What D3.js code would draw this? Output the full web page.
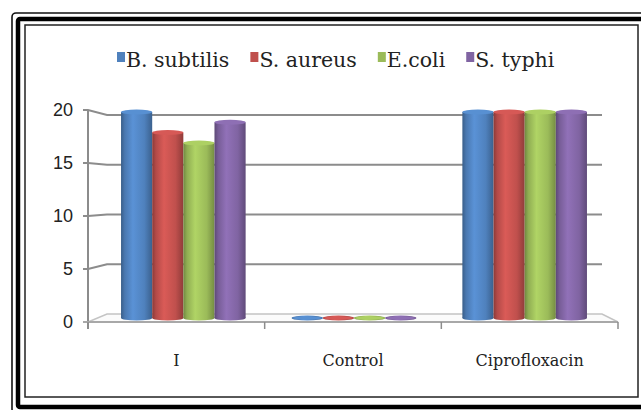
<!DOCTYPE html>
<html>
<head>
<meta charset="utf-8">
<script src="https://cdn.jsdelivr.net/npm/d3@7"></script>
<style>
  body { margin: 0; background: white; }
  svg { display: block; }
</style>
</head>
<body>
<div class="canvas"></div>
<script>
// data
const categories = ["I", "Control", "Ciprofloxacin"];
const seriesNames = ["B. subtilis", "S. aureus", "E.coli", "S. typhi"];
const seriesColors = ["#4F81BD", "#C0504D", "#9BBB59", "#8064A2"];
const bSubtilis = [20, 0, 20];
const sAureus = [18, 0, 20];
const eColi = [17, 0, 20];
const sTyphi = [19, 0, 20];
const yTicks = [0, 5, 10, 15, 20];

const seriesValues = [bSubtilis, sAureus, eColi, sTyphi];

const width = 641, height = 410;

const svg = d3.select(".canvas")
  .append("svg")
    .attr("width", width)
    .attr("height", height);

svg.append("rect").attr("width", width).attr("height", height).attr("fill", "white");

// double frame round the chart
svg.append("rect").attr("x", 12).attr("y", 13).attr("width", 640).attr("height", 400)
    .attr("rx", 4).attr("fill", "none").attr("stroke", "#111").attr("stroke-width", 1.6);
svg.append("rect").attr("x", 18).attr("y", 19).attr("width", 628).attr("height", 388)
    .attr("rx", 2).attr("fill", "none").attr("stroke", "#000").attr("stroke-width", 4.5);
svg.append("rect").attr("x", 25).attr("y", 25).attr("width", 613).attr("height", 372)
    .attr("fill", "none").attr("stroke", "#222").attr("stroke-width", 1.5);

// scales: front plane, back wall, and the middle plane the bars stand in
const xFront = d3.scaleBand().domain(categories).range([88, 618]);
const xMid = d3.scaleBand().domain(categories).range([98, 610])
    .paddingInner(0.27).paddingOuter(0.135);
const xSub = d3.scaleBand().domain(seriesNames).range([0, xMid.bandwidth()]);
const yFront = d3.scaleLinear().domain([0, 20]).range([322, 110]);
const yBack = d3.scaleLinear().domain([0, 20]).range([314, 115]);
const yMid = d3.scaleLinear().domain([0, 20]).range([318, 112]);
const backX0 = 107, backX1 = 602;

const grid = svg.append("g");

// floor
grid.append("path")
    .attr("d", `M${xFront.range()[0]},${yFront(0)} L${backX0},${yBack(0)} H${backX1} L${xFront.range()[1]},${yFront(0)} Z`)
    .attr("fill", "#fbfbfb").attr("stroke", "#c4c4c4").attr("stroke-width", 1.5);

// back wall gridlines with left-wall connectors
grid.selectAll(".gl")
  .data(yTicks.filter(t => t > 0))
  .enter().append("path")
    .attr("class", "gl")
    .attr("d", t => `M83,${yFront(t)} H88 L${backX0},${yBack(t)} H${backX1}`)
    .attr("fill", "none")
    .attr("stroke", "#8c8c8c")
    .attr("stroke-width", 2);

// front axes
grid.append("line")
    .attr("x1", 88).attr("x2", 88).attr("y1", yFront(20)).attr("y2", yFront(0) + 7)
    .attr("stroke", "#8c8c8c").attr("stroke-width", 2);
grid.append("line")
    .attr("x1", 83).attr("x2", 618).attr("y1", yFront(0)).attr("y2", yFront(0))
    .attr("stroke", "#a8a8a8").attr("stroke-width", 2);
const catEdges = categories.map(c => xFront(c)).concat([xFront.range()[1]]);
grid.selectAll(".ct")
  .data(catEdges)
  .enter().append("line")
    .attr("class", "ct")
    .attr("x1", d => d).attr("x2", d => d)
    .attr("y1", yFront(0)).attr("y2", yFront(0) + 7)
    .attr("stroke", "#8c8c8c").attr("stroke-width", 1.5);

// y tick labels
svg.append("g").selectAll("text")
  .data(yTicks)
  .enter().append("text")
    .attr("x", 73)
    .attr("y", d => yFront(d))
    .attr("dy", "0.36em")
    .attr("text-anchor", "end")
    .attr("font-family", "Liberation Sans, Arial, sans-serif")
    .attr("font-size", 18)
    .attr("fill", "#222")
    .text(d => d);

// category labels
svg.append("g").selectAll("text")
  .data(categories)
  .enter().append("text")
    .attr("x", d => xFront(d) + xFront.bandwidth() / 2)
    .attr("y", 366)
    .attr("text-anchor", "middle")
    .attr("font-family", "DejaVu Serif, serif")
    .attr("font-size", 16)
    .attr("fill", "#222")
    .text(d => d);

// cylinder shading
const defs = svg.append("defs");
seriesColors.forEach((c, i) => {
    const g = defs.append("linearGradient")
        .attr("id", "cyl" + i)
        .attr("x1", "0%").attr("x2", "100%").attr("y1", "0%").attr("y2", "0%");
    const base = d3.color(c);
    g.append("stop").attr("offset", "0%").attr("stop-color", base.darker(0.9));
    g.append("stop").attr("offset", "12%").attr("stop-color", base.darker(0.2));
    g.append("stop").attr("offset", "38%").attr("stop-color", base.brighter(0.35));
    g.append("stop").attr("offset", "75%").attr("stop-color", base);
    g.append("stop").attr("offset", "100%").attr("stop-color", base.darker(0.8));
});

const bars = [];
seriesValues.forEach((vals, si) => {
    vals.forEach((v, ci) => {
        bars.push({ series: seriesNames[si], si: si, category: categories[ci], value: v });
    });
});

const capRy = 2.5;
const barG = svg.append("g");
const bar = barG.selectAll("g")
  .data(bars)
  .enter().append("g")
    .attr("transform", d => `translate(${xMid(d.category) + xSub(d.series)},0)`);

bar.append("rect")
    .attr("x", 0)
    .attr("width", xSub.bandwidth())
    .attr("y", d => yMid(d.value))
    .attr("height", d => yMid(0) - yMid(d.value))
    .attr("fill", d => `url(#cyl${d.si})`);

bar.append("ellipse")
    .attr("cx", xSub.bandwidth() / 2)
    .attr("cy", yMid(0))
    .attr("rx", xSub.bandwidth() / 2)
    .attr("ry", capRy)
    .attr("fill", d => `url(#cyl${d.si})`);

bar.append("ellipse")
    .attr("cx", xSub.bandwidth() / 2)
    .attr("cy", d => yMid(d.value))
    .attr("rx", xSub.bandwidth() / 2)
    .attr("ry", d => d.value > 0 ? capRy : 1.5)
    .attr("fill", d => d3.color(seriesColors[d.si]).brighter(0.3));

// legend
const legend = svg.append("g");
let lx = 117;
seriesNames.forEach((name, i) => {
    legend.append("rect")
        .attr("x", lx).attr("y", 52)
        .attr("width", 8).attr("height", 10)
        .attr("fill", seriesColors[i]);
    const t = legend.append("text")
        .attr("x", lx + 9).attr("y", 67)
        .attr("font-family", "DejaVu Serif, serif")
        .attr("font-size", 20.5)
        .attr("fill", "#222")
        .text(name);
    lx += 9 + t.node().getComputedTextLength() + 21;
});
</script>
</body>
</html>
